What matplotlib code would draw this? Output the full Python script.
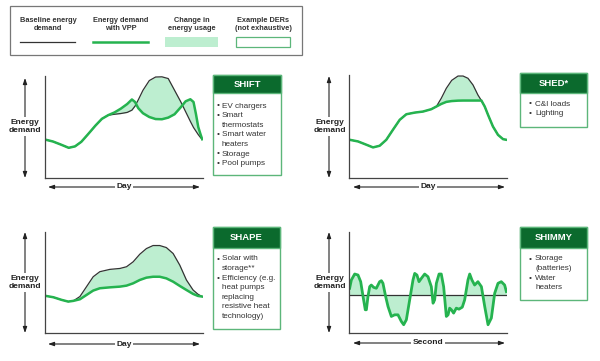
import matplotlib
matplotlib.use('Agg')
import matplotlib.pyplot as plt
from matplotlib.patches import Rectangle

plt.rcParams['font.family'] = ['Liberation Sans', 'DejaVu Sans']

GREEN = '#25b34f'
FILL = '#bdeed0'
DARK = '#0b6a2d'
EDGE = '#5cb67a'
INK = '#333333'

# --- curve data (x: % of period, y: % of axis height) ---
shift_x = [0.5, 5, 10, 15, 19, 23, 27, 32, 36, 40, 44, 48, 52, 55, 57, 59, 62, 66, 70,
           74, 78, 82, 86, 89, 92, 94, 95.5, 97, 98.5, 99.5]
shift_base = [37.5, 35.8, 32.8, 29.6, 31, 35.5, 42.5, 51.5, 58, 61.6, 62.5, 63.2, 64.3, 66.5,
              70.5, 76.5, 86, 95.5, 99, 99.2, 97.5, 86, 74.5, 65, 55.5, 49.5, 46, 42.5, 39.5, 38]
shift_vpp = [37.5, 35.8, 32.8, 29.6, 31, 35.5, 42.5, 51.5, 58, 61.6, 64.3, 68, 72.5, 77,
             74.5, 68.5, 63.5, 59.8, 57.8, 57.6, 59.2, 62.5, 69.5, 75.2, 77.2, 74.5, 63, 50, 42.5, 38]

shed_x = [0.4, 5.7, 11, 15.2, 19.4, 23.6, 27.8, 32.1, 36.3, 41.6, 46.8, 52.1, 55.3, 58.4,
          61.6, 65, 69, 72.2, 75.3, 78.5, 81.6, 83.8, 85.9, 88, 91.1, 94.3, 97.5, 99.6]
shed_base = [37.1, 35.5, 32.3, 29.7, 31.3, 37.1, 46.8, 56.5, 61.9, 63.5, 64.5, 66.8, 69.4, 77.4,
             87.1, 94.8, 99, 99, 96.8, 90.3, 80.6, 75.2, 69.4, 61.3, 50, 41.9, 37.7, 37.1]
shed_vpp = [37.1, 35.5, 32.3, 29.7, 31.3, 37.1, 46.8, 56.5, 61.9, 63.5, 64.5, 66.8, 69.4, 71.9,
            73.9, 74.7, 75.1, 75.2, 75.2, 75.2, 75.2, 75.2, 69.4, 61.3, 50, 41.9, 37.7, 37.1]

shape_x = [0.6, 5.3, 10.5, 14.7, 17.9, 22.1, 26.3, 30.5, 34.7, 41.1, 47.4, 51.6, 55.8, 60,
           64.2, 68.4, 72.6, 76.8, 81.1, 85.3, 89.5, 93.7, 96.8, 99.4]
shape_base = [36.7, 35.4, 32.8, 31.1, 31.8, 36.1, 45.9, 55.7, 60.7, 63, 63.9, 65.6, 70.5, 78,
              83.6, 86.6, 86.6, 84.6, 78.7, 67.2, 52.5, 42.6, 38.4, 36.1]
shape_vpp = [36.7, 35.4, 32.8, 31.1, 31.8, 33.4, 37.7, 42, 44.3, 45.2, 45.9, 46.9, 49.2, 52.5,
             54.8, 55.7, 55.7, 54.1, 50.8, 46.6, 42.6, 38.7, 36.7, 36.1]

shimmy_x = [0.4, 1.5, 3.6, 5.7, 7.4, 8.9, 10.3, 11, 12, 13.1, 14.1, 15.6, 17.3, 19.4, 20.5,
            21.5, 23.2, 24.7, 26.8, 28.9, 31, 33.1, 34.6, 36.3, 38.4, 40.5, 41.6, 43, 44.3,
            45.8, 47.9, 50, 52.1, 53.2, 54.2, 55.3, 57, 58.4, 59.9, 61.6, 62.7, 63.7, 64.8,
            66.2, 67.9, 69.6, 71.7, 73.2, 75.3, 76.4, 77.8, 79.5, 81.6, 83.8, 85.9, 88, 90.1,
            92.2, 94.3, 96.4, 98.5, 99.6]
shimmy_vpp = [44.3, 52.5, 58.4, 57.4, 50.8, 36.1, 23, 23, 36.1, 45.9, 47.5, 45.2, 44.3, 50.8,
              51.8, 49.2, 36.1, 26.2, 16.4, 18, 18, 11.5, 8.2, 13.1, 32.8, 52.5, 59, 57.4, 50.8,
              54.1, 58.4, 55.7, 45.9, 29.5, 32.8, 49.2, 58.4, 58.4, 45.9, 16.4, 18, 24.6, 23,
              19.7, 24.6, 23.6, 25.6, 32.8, 52.5, 58.4, 52.5, 47.5, 50.8, 45.9, 26.2, 8.2, 14.8,
              39.3, 49.2, 50.8, 47.5, 41]
shimmy_base = 37.7

legend_labels = ['Baseline energy\ndemand', 'Energy demand\nwith VPP',
                 'Change in\nenergy usage', 'Example DERs\n(not exhaustive)']

boxes = [
    ('SHIFT', ['EV chargers', 'Smart', ' thermostats', 'Smart water', ' heaters', 'Storage', 'Pool pumps']),
    ('SHED*', ['C&I loads', 'Lighting']),
    ('SHAPE', ['Solar with', ' storage**', 'Efficiency (e.g.', ' heat pumps', ' replacing',
               ' resistive heat', ' technology)']),
    ('SHIMMY', ['Storage', ' (batteries)', 'Water', ' heaters']),
]

W, H = 600, 361
fig = plt.figure(figsize=(6, 3.61), dpi=100)
ov = fig.add_axes([0, 0, 1, 1])
ov.set_xlim(0, W)
ov.set_ylim(H, 0)
ov.axis('off')


def panel_axes(x0, x1, ytop, ybot):
    ax = fig.add_axes([x0 / W, 1 - ybot / H, (x1 - x0) / W, (ybot - ytop) / H])
    ax.set_xlim(0, 100)
    ax.set_ylim(0, 100)
    ax.set_facecolor('none')
    for s in ['top', 'right']:
        ax.spines[s].set_visible(False)
    for s in ['left', 'bottom']:
        ax.spines[s].set_color('#444444')
        ax.spines[s].set_linewidth(0.9)
    ax.set_xticks([])
    ax.set_yticks([])
    return ax


def arrow(x0, y0, x1, y1):
    ov.annotate('', xy=(x1, y1), xytext=(x0, y0),
                arrowprops=dict(arrowstyle='<|-|>,head_length=0.35,head_width=0.12',
                                color='#222222', lw=0.8, shrinkA=0, shrinkB=0))


def label(x, y, s, fs=6):
    ov.text(x, y, s, ha='center', va='center', fontsize=fs, fontweight='bold', color='#222222',
            linespacing=1.15, zorder=5,
            bbox=dict(facecolor='white', edgecolor='none', pad=1.2))


def der_box(x0, x1, ytop, ybot, yhead, title, items, y_first, bx, tx):
    ov.add_patch(Rectangle((x0, ytop), x1 - x0, ybot - ytop, facecolor='white',
                           edgecolor=EDGE, lw=1.0))
    ov.add_patch(Rectangle((x0, ytop), x1 - x0, yhead - ytop, facecolor=DARK,
                           edgecolor=EDGE, lw=1.0))
    ov.text((x0 + x1) / 2, (ytop + yhead) / 2 + 0.5, title, ha='center', va='center',
            fontsize=6.8, fontweight='bold', color='white')
    for i, it in enumerate(items):
        y = y_first + i * 9.6
        if not it.startswith(' '):
            ov.text(x0 + bx, y, '\u2022', ha='center', va='center', fontsize=6, color='#333333')
        ov.text(x0 + tx, y, it.strip(), ha='left', va='center', fontsize=5.9, color='#333333')


# legend
ov.add_patch(Rectangle((9.5, 6), 292.5, 49, facecolor='white', edgecolor='#777777', lw=0.9))
for cx, s in zip([48, 121, 192, 263], legend_labels):
    ov.text(cx, 24, s, ha='center', va='center', fontsize=5.3, fontweight='bold',
            color='#333333', linespacing=1.2)
ov.plot([20, 75], [42, 42], color=INK, lw=0.9)
ov.plot([93, 148], [42, 42], color=GREEN, lw=1.8)
ov.add_patch(Rectangle((165, 36.5), 53, 10.5, facecolor=FILL, edgecolor='none'))
ov.add_patch(Rectangle((236, 37), 54, 10, facecolor='white', edgecolor=EDGE, lw=0.9))

# panels
ax1 = panel_axes(45, 203, 76, 178)
ax1.fill_between(shift_x, shift_base, shift_vpp, color=FILL, lw=0, interpolate=True)
ax1.plot(shift_x, shift_base, color=INK, lw=0.9)
ax1.plot(shift_x, shift_vpp, color=GREEN, lw=1.8, solid_joinstyle='round')

ax2 = panel_axes(349, 507, 75, 178)
ax2.fill_between(shed_x, shed_base, shed_vpp, color=FILL, lw=0)
ax2.plot(shed_x, shed_base, color=INK, lw=0.9)
ax2.plot(shed_x, shed_vpp, color=GREEN, lw=1.8, solid_joinstyle='round')

ax3 = panel_axes(45, 203, 232, 333)
ax3.fill_between(shape_x, shape_base, shape_vpp, color=FILL, lw=0)
ax3.plot(shape_x, shape_base, color=INK, lw=0.9)
ax3.plot(shape_x, shape_vpp, color=GREEN, lw=1.8, solid_joinstyle='round')

ax4 = panel_axes(349, 507, 232, 333)
ax4.fill_between(shimmy_x, shimmy_base, shimmy_vpp, color=FILL, lw=0, interpolate=True)
ax4.plot([0, 100], [shimmy_base, shimmy_base], color=INK, lw=0.9)
ax4.plot(shimmy_x, shimmy_vpp, color=GREEN, lw=2.0, solid_joinstyle='round')

# axis arrows and labels
arrow(25, 78, 25, 178)
arrow(329, 76, 329, 178)
arrow(25, 232, 25, 333)
arrow(329, 232, 329, 333)
label(25, 126.5, 'Energy\ndemand')
label(330, 126.5, 'Energy\ndemand')
label(25, 282.5, 'Energy\ndemand')
label(330, 282.5, 'Energy\ndemand')

arrow(48, 187, 200, 187)
arrow(353, 187, 505, 187)
arrow(48, 344, 200, 344)
arrow(353, 343, 505, 343)
label(124, 187, 'Day')
label(428, 187, 'Day')
label(124, 344, 'Day')
label(428, 343, 'Second')

# DER boxes
der_box(213, 281, 75, 175, 93, boxes[0][0], boxes[0][1], 106, 5, 9)
der_box(520, 587, 73, 127, 93, boxes[1][0], boxes[1][1], 104, 10, 15)
der_box(213, 280, 227, 329, 248, boxes[2][0], boxes[2][1], 259, 5, 9)
der_box(520, 587, 227, 300, 248, boxes[3][0], boxes[3][1], 259, 10, 15)

fig.savefig('out.png', dpi=100)
